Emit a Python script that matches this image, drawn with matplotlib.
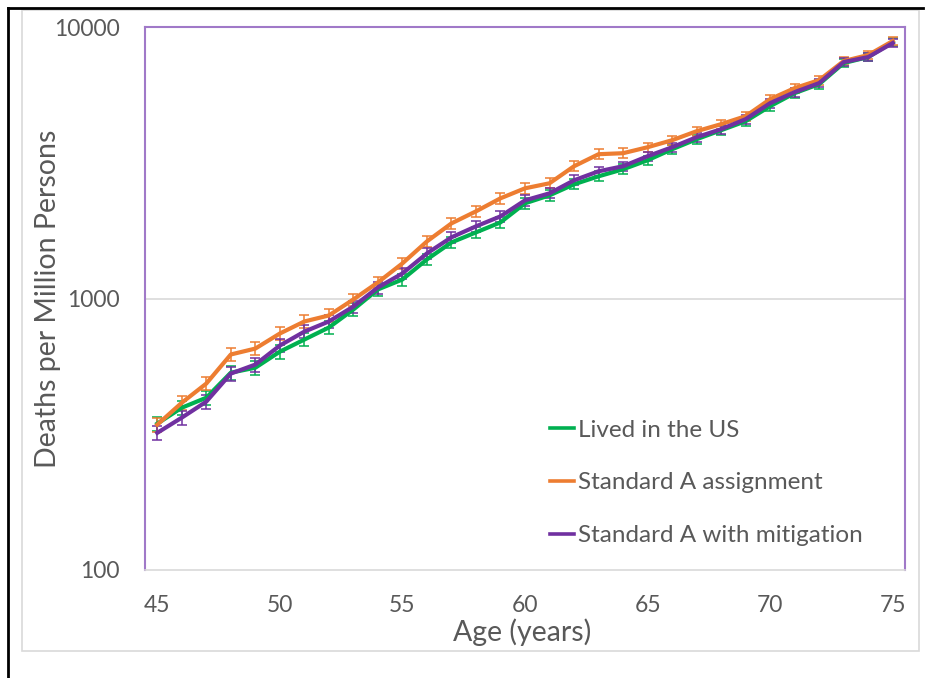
import numpy as np
import matplotlib
matplotlib.use("Agg")
import matplotlib.pyplot as plt
from matplotlib.lines import Line2D

ages = list(range(45, 76))

lived_us = [346, 396, 431, 533, 556, 637, 706, 782, 911, 1080, 1175, 1393, 1609, 1752, 1907,
            2242, 2399, 2634, 2819, 2992, 3230, 3546, 3861, 4167, 4498, 5110, 5708, 6161, 7366,
            7750, 8804]
std_a = [343, 413, 486, 622, 654, 743, 823, 866, 992, 1146, 1347, 1623, 1891, 2094, 2339,
         2546, 2657, 3070, 3400, 3429, 3607, 3828, 4132, 4387, 4694, 5424, 5955, 6373, 7491,
         7884, 8878]
std_a_mit = [320, 364, 417, 529, 571, 671, 755, 823, 934, 1098, 1237, 1466, 1680, 1844, 2007,
             2299, 2440, 2725, 2941, 3070, 3342, 3607, 3928, 4203, 4576, 5243, 5756, 6214, 7427,
             7750, 8730]

# error bar half-widths (deaths per million)
err_us = [21, 24, 26, 32, 33, 37, 40, 43, 48, 55, 59, 68, 76, 82, 88, 100, 105, 112, 118, 124,
          132, 142, 152, 162, 172, 193, 212, 226, 265, 276, 310]
err_std = [20, 24, 27, 34, 36, 40, 44, 45, 50, 57, 65, 78, 88, 96, 105, 112, 115, 130, 140, 140,
           145, 150, 160, 170, 180, 205, 220, 235, 270, 285, 315]
err_mit = [20, 22, 25, 31, 33, 38, 42, 44, 48, 55, 60, 70, 78, 85, 90, 100, 104, 114, 121, 125,
           135, 143, 153, 162, 174, 196, 212, 226, 265, 276, 305]

labels = ["Lived in the US", "Standard A assignment", "Standard A with mitigation"]
colors = ["#00B050", "#ED7D31", "#7030A0"]

plt.rcParams["font.family"] = ["Lato", "DejaVu Sans"]
txt = "#595959"

fig = plt.figure(figsize=(9.26, 6.78), dpi=100)
ax = fig.add_axes([145 / 926, 1 - 570 / 678, 760 / 926, 543 / 678])

series = [(lived_us, err_us), (std_a, err_std), (std_a_mit, err_mit)]
for (vals, err), lab, c in zip(series, labels, colors):
    ax.errorbar(ages, vals, yerr=err, color=c, lw=3, ecolor=c, elinewidth=1.1,
                capsize=3.5, capthick=1.1, label=lab, zorder=3)

ax.set_yscale("log")
ax.set_ylim(100, 10000)
ax.set_xlim(44.5, 75.5)
ax.set_yticks([100, 1000, 10000])
ax.set_yticklabels(["100", "1000", "10000"])
ax.minorticks_off()
ax.set_xticks(range(45, 76, 5))
ax.tick_params(length=0, labelsize=16.5, colors=txt)
ax.tick_params(axis="x", pad=18)
ax.tick_params(axis="y", pad=18)
ax.axhline(1000, color="#D9D9D9", lw=1.2, zorder=1)

for s in ["left", "top", "right"]:
    ax.spines[s].set_color("#A079C8")
    ax.spines[s].set_linewidth(1.5)
ax.spines["bottom"].set_color("#D9D9D9")
ax.spines["bottom"].set_linewidth(1.2)

ax.set_xlabel("Age (years)", fontsize=20.5, color=txt)
ax.set_ylabel("Deaths per Million Persons", fontsize=20.5, color=txt)
ax.xaxis.set_label_coords(0.496, -0.114)
ax.yaxis.set_label_coords(-0.128, 0.5)
ax.xaxis.label.set_va("center")
ax.yaxis.label.set_va("center")

handles = [Line2D([], [], color=c, lw=2.6) for c in colors]
leg = ax.legend(handles, labels, loc="lower left", bbox_to_anchor=(0.533, 0.044),
                frameon=False, fontsize=17.5, handlelength=1.0, handletextpad=0.15,
                labelspacing=1.3, borderpad=0, borderaxespad=0)
for t in leg.get_texts():
    t.set_color(txt)

# chart area border and page edges
fig.add_artist(plt.Rectangle((22 / 926, 1 - 651 / 678), 897 / 926, 641 / 678,
                             fill=False, ec="#D9D9D9", lw=1.2, transform=fig.transFigure))
fig.add_artist(Line2D([8 / 926, 8 / 926], [0, 1 - 8 / 678], color="black", lw=2,
                      transform=fig.transFigure))
fig.add_artist(Line2D([8 / 926, 923 / 926], [1 - 8 / 678, 1 - 8 / 678], color="black", lw=2,
                      transform=fig.transFigure))

fig.savefig("out.png", dpi=100)
